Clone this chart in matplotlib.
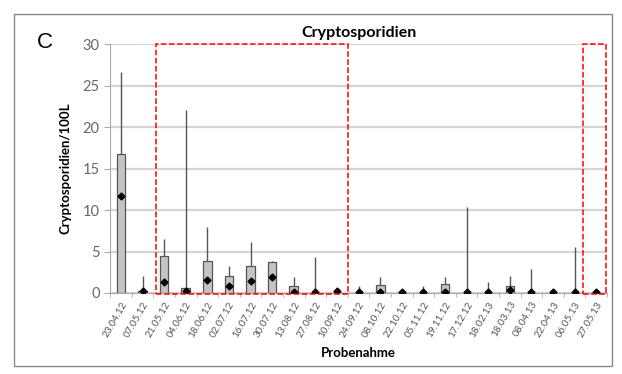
import numpy as np
import matplotlib
matplotlib.use("Agg")
import matplotlib.pyplot as plt
from matplotlib.patches import Rectangle

plt.rcParams['font.family'] = ['Lato', 'DejaVu Sans']

# sampling dates
dates = ['23.04.12', '07.05.12', '21.05.12', '04.06.12', '18.06.12', '02.07.12',
         '16.07.12', '30.07.12', '13.08.12', '27.08.12', '10.09.12', '24.09.12',
         '08.10.12', '22.10.12', '05.11.12', '19.11.12', '17.12.12', '18.02.13',
         '18.03.13', '08.04.13', '22.04.13', '06.05.13', '27.05.13']

# box bottom / box top / whisker top / mean (Cryptosporidien per 100 L)
q1 = [0] * 23
q3 = [16.8, 0.2, 4.5, 0.6, 3.8, 2.1, 3.2, 3.7, 0.85, 0, 0, 0,
      1.0, 0, 0, 1.1, 0, 0, 0.85, 0, 0, 0, 0]
maxv = [26.7, 2.0, 6.5, 22.1, 8.0, 3.2, 6.1, 3.85, 1.9, 4.3, 0.4, 0.85,
        1.9, 0.3, 0.85, 1.9, 10.4, 1.3, 2.1, 2.9, 0.3, 5.5, 0.2]
mean = [11.7, 0.2, 1.3, 0.2, 1.6, 0.9, 1.5, 1.9, 0.15, 0.1, 0.2, 0.1,
        0.15, 0.1, 0.1, 0.15, 0.1, 0.1, 0.4, 0.1, 0.1, 0.1, 0.1]

x = np.arange(len(dates))
q1 = np.array(q1)
q3 = np.array(q3)

fig = plt.figure(figsize=(6.22, 3.74), dpi=100, facecolor='w')
ax = fig.add_axes([0.177, 0.2166, 0.799, 0.6654])

# grid
ax.set_axisbelow(True)
ax.grid(axis='y', color='#d4d4d4', lw=1.6)

# whiskers, boxes, means
ax.vlines(x, q3, maxv, color='#555555', lw=1.0, zorder=2)
ax.bar(x, q3 - q1, bottom=q1, width=0.4, color='#c4c4c4',
       edgecolor='#555555', lw=0.9, zorder=3)
ax.plot(x, mean, 'D', color='black', ms=3.5, zorder=4)

ax.set_xlim(-0.5, len(dates) - 0.5)
ax.set_ylim(0, 30)
ax.set_yticks(np.arange(0, 31, 5))
ax.set_xticks(x)
ax.set_xticklabels(dates, rotation=60, ha='right', rotation_mode='anchor',
                   fontsize=7.2, color='#555555')
ax.set_xticks(np.arange(-0.5, len(dates), 1), minor=True)
ax.tick_params(axis='x', which='major', length=0, pad=5)
ax.tick_params(axis='x', which='minor', length=3, color='#aaaaaa')
ax.tick_params(axis='y', length=4, color='#aaaaaa', labelsize=10.5,
               labelcolor='#666666')

for s in ('top', 'right'):
    ax.spines[s].set_visible(False)
for s in ('left', 'bottom'):
    ax.spines[s].set_color('#aaaaaa')

ax.set_title('Cryptosporidien', fontsize=11.5, fontweight='bold', pad=5)
ax.set_ylabel('Cryptosporidien/100L', fontsize=9.5, fontweight='bold', labelpad=8)
ax.set_xlabel('Probenahme', fontsize=9.5, fontweight='bold', labelpad=6)

# highlighted periods
ax.add_patch(Rectangle((1.62, -0.1), 10.5 - 1.62, 30.1, fill=False,
                       edgecolor='red', ls='--', lw=1.1, clip_on=False, zorder=5))
ax.add_patch(Rectangle((21.37, -0.1), 22.45 - 21.37, 30.1, fill=False,
                       edgecolor='red', ls='--', lw=1.1, clip_on=False, zorder=5))

fig.text(45 / 622, 1 - 42 / 374, 'C', fontsize=16, ha='center', va='center',
         family=['Liberation Sans'])
fig.patches.append(Rectangle((14 / 622, 1 - 366 / 374), 598 / 622, 352 / 374,
                             transform=fig.transFigure, fill=False,
                             edgecolor='#888888', lw=1.0))

fig.savefig('out.png', dpi=100)
